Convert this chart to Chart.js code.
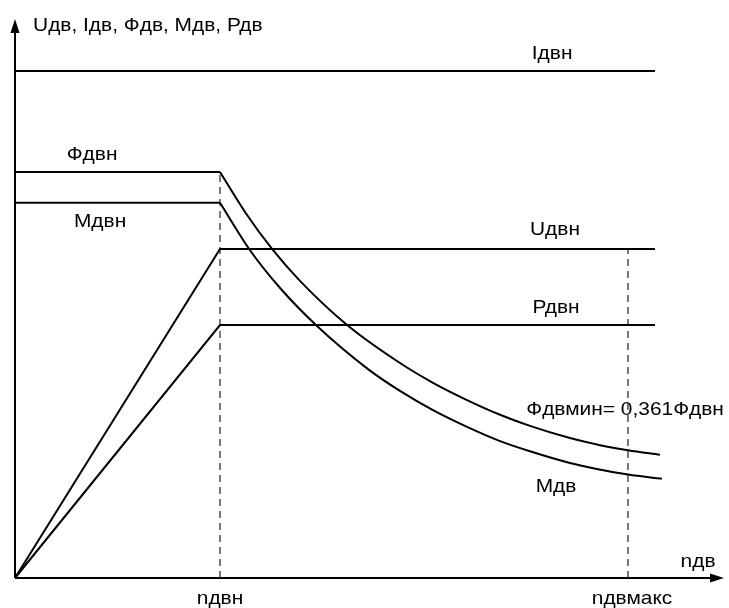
<!DOCTYPE html>
<html>
<head>
<meta charset="utf-8">
<script src="https://cdn.jsdelivr.net/npm/chart.js@4/dist/chart.umd.min.js"></script>
<style>
  html, body { margin: 0; padding: 0; background: #fff; }
  #wrap { width: 729px; height: 608px; }
</style>
</head>
<body>
<div id="wrap"><canvas id="c" width="729" height="608"></canvas></div>
<script>
// ---- data (x in units of n_nom, y relative to I_nom) ----
const currentX = [0, 3.122];
const currentY = [1.0, 1.0];

const fluxFlatX = [0, 1.0];
const fluxFlatY = [0.801, 0.801];
const fluxX = [1.000, 1.127, 1.254, 1.390, 1.620, 1.878, 2.039, 2.205, 2.366, 2.512, 2.707, 2.854, 2.990, 3.146];
const fluxY = [0.801, 0.719, 0.649, 0.586, 0.499, 0.424, 0.385, 0.351, 0.322, 0.300, 0.276, 0.262, 0.252, 0.243];

const torqueFlatX = [0, 1.0];
const torqueFlatY = [0.740, 0.740];
const torqueX = [1.000, 1.142, 1.293, 1.468, 1.722, 1.878, 2.039, 2.205, 2.366, 2.512, 2.707, 2.990, 3.156];
const torqueY = [0.740, 0.649, 0.572, 0.499, 0.412, 0.369, 0.331, 0.298, 0.270, 0.250, 0.227, 0.204, 0.196];

const voltageX = [0, 1.0, 3.122];
const voltageY = [0, 0.649, 0.649];

const powerX = [0, 1.0, 3.122];
const powerY = [0, 0.499, 0.499];

const nomSpeedX = [1.0, 1.0];
const nomSpeedY = [0, 0.801];
const maxSpeedX = [2.99, 2.99];
const maxSpeedY = [0, 0.649];

const X_MAX = 3.4585;
const Y_MAX = 1.1026;

// text labels
const labelTexts = ['Uдв, Iдв, Фдв, Мдв, Рдв', 'Iдвн', 'Фдвн', 'Мдвн', 'Uдвн', 'Рдвн',
                    'Фдвмин= 0,361Фдвн', 'Мдв', 'nдв', 'nдвн', 'nдвмакс'];
const labelX = [0.088, 2.620, 0.376, 0.415, 2.634, 2.639, 2.976, 2.639, 3.332, 1.0, 3.01];
const labelY = [1.089, 1.034, 0.834, 0.702, 0.686, 0.533, 0.331, 0.179, 0.032, -0.042, -0.042];
const labelAlign = ['left','center','center','center','center','center','center','center','center','center','center'];

function pts(xs, ys) { return xs.map((x, i) => ({ x: x, y: ys[i] })); }

const solid = { borderColor: '#000', borderWidth: 2, pointRadius: 0, fill: false, clip: false, tension: 0 };
const curve = Object.assign({}, solid, { cubicInterpolationMode: 'monotone' });
const dashed = { borderColor: '#333', borderWidth: 1.3, borderDash: [7, 5], pointRadius: 0, fill: false, clip: false };

const STRETCH = 1.13;

const axesPlugin = {
  id: 'axesAndText',
  beforeDatasetsDraw(chart) {
    const ctx = chart.ctx;
    const xs = chart.scales.x, ys = chart.scales.y;
    const x0 = xs.getPixelForValue(0), y0 = ys.getPixelForValue(0);
    const xe = xs.getPixelForValue(X_MAX), ye = ys.getPixelForValue(Y_MAX);
    ctx.save();
    ctx.strokeStyle = '#000';
    ctx.fillStyle = '#000';
    ctx.lineWidth = 2;
    ctx.beginPath();
    ctx.moveTo(x0, y0); ctx.lineTo(xe - 10, y0);
    ctx.moveTo(x0, y0); ctx.lineTo(x0, ye + 10);
    ctx.stroke();
    ctx.beginPath();
    ctx.moveTo(xe, y0); ctx.lineTo(xe - 14, y0 - 4.5); ctx.lineTo(xe - 14, y0 + 4.5); ctx.closePath();
    ctx.fill();
    ctx.beginPath();
    ctx.moveTo(x0, ye); ctx.lineTo(x0 - 4.5, ye + 14); ctx.lineTo(x0 + 4.5, ye + 14); ctx.closePath();
    ctx.fill();
    ctx.restore();
  },
  afterDatasetsDraw(chart) {
    const ctx = chart.ctx;
    const xs = chart.scales.x, ys = chart.scales.y;
    ctx.save();
    ctx.fillStyle = '#000';
    ctx.font = '18.5px "Liberation Sans", Arial, sans-serif';
    ctx.textBaseline = 'middle';
    labelTexts.forEach((t, i) => {
      ctx.save();
      ctx.translate(xs.getPixelForValue(labelX[i]), ys.getPixelForValue(labelY[i]));
      ctx.scale(STRETCH, 1);
      ctx.textAlign = labelAlign[i];
      ctx.fillText(t, 0, 0);
      ctx.restore();
    });
    ctx.restore();
  }
};

new Chart(document.getElementById('c'), {
  type: 'line',
  data: {
    datasets: [
      Object.assign({ label: 'Iдвн', data: pts(currentX, currentY) }, solid),
      Object.assign({ label: 'Фдвн', data: pts(fluxFlatX, fluxFlatY) }, solid),
      Object.assign({ label: 'Фдв', data: pts(fluxX, fluxY) }, curve),
      Object.assign({ label: 'Мдвн', data: pts(torqueFlatX, torqueFlatY) }, solid),
      Object.assign({ label: 'Мдв', data: pts(torqueX, torqueY) }, curve),
      Object.assign({ label: 'Uдв', data: pts(voltageX, voltageY) }, solid),
      Object.assign({ label: 'Рдв', data: pts(powerX, powerY) }, solid),
      Object.assign({ label: 'nдвн', data: pts(nomSpeedX, nomSpeedY) }, dashed),
      Object.assign({ label: 'nдвмакс', data: pts(maxSpeedX, maxSpeedY) }, dashed)
    ]
  },
  options: {
    responsive: false,
    animation: false,
    layout: { padding: { left: 15, right: 5, top: 19, bottom: 30 } },
    plugins: { legend: { display: false }, tooltip: { enabled: false } },
    scales: {
      x: { type: 'linear', min: 0, max: X_MAX, display: false },
      y: { type: 'linear', min: 0, max: Y_MAX, display: false }
    }
  },
  plugins: [axesPlugin]
});
</script>
</body>
</html>
